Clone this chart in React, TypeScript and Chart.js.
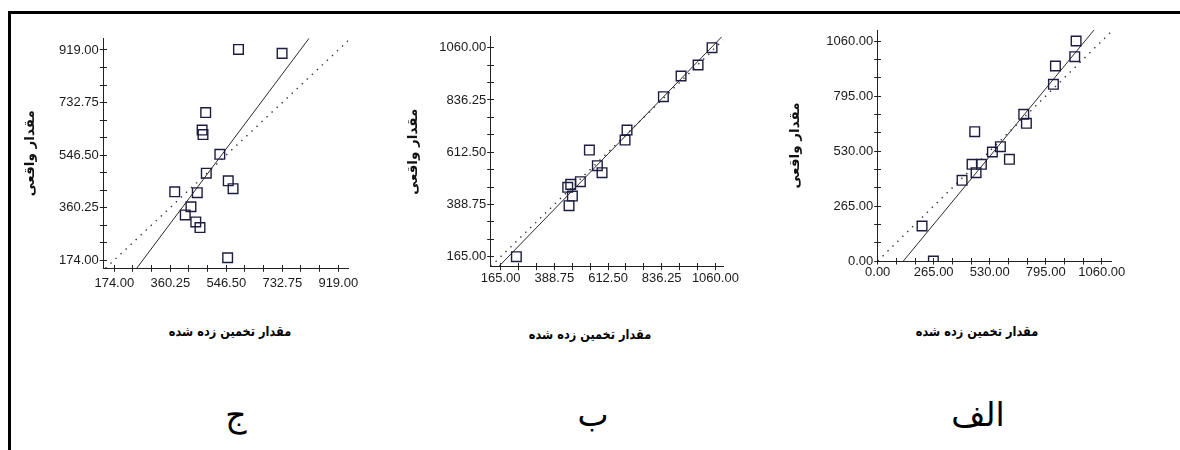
import React, { useEffect, useRef } from "react";
import { Chart, registerables } from "chart.js";

Chart.register(...registerables);

// ---------- Data ----------
// Panel الف (right)
const estimatedAlef = [938.6, 932.2, 840.8, 831.3, 690.9, 703.5, 459.0, 580.5, 542.6, 623.1, 490.6, 446.4, 465.3, 399.1, 209.8, 263.4];
const actualAlef = [1060, 984.5, 939.5, 851.2, 706.6, 663.3, 623.1, 550.9, 525.2, 489.8, 465.7, 465.7, 425.6, 388.7, 168.6, 0];
const tickLabelsAlef = [0, 265, 530, 795, 1060];
const rangeAlef = [0, 1107, 0, 1113]; // xMin, xMax, yMin, yMax
const fitAlef = [1.234, -150]; // slope, intercept

// Panel ب (middle)
const estimatedBe = [1046.1, 987.8, 916.9, 843.2, 691.7, 683.4, 534.7, 568.0, 587.5, 497.2, 444.4, 456.9, 463.8, 449.9, 230.3];
const actualBe = [1060, 985.8, 938.7, 850.1, 707.4, 664.6, 621.8, 554.7, 524.7, 486.2, 461.9, 474.7, 424.8, 383.4, 165];
const tickLabelsBe = [165, 388.75, 612.5, 836.25, 1060];
const rangeBe = [123.3, 1093, 122.2, 1107];
const fitBe = [1.058, -43];

// Panel ج (left)
const estimatedJim = [587, 732, 478, 466, 469, 525, 480, 553, 569, 375, 450, 429, 410, 445, 459, 551];
const actualJim = [921, 907, 697, 635, 619, 549, 482, 455, 427, 416, 413, 363, 334, 309, 289, 182];
const tickLabelsJim = [174, 360.25, 546.5, 732.75, 919];
const rangeJim = [137.4, 952.3, 144.6, 960.5];
const fitJim = [1.423, -208.9];

const yTitle = "مقدار واقعی";
const xTitle = "مقدار تخمین زده شده";
const panelLetters = ["ج", "ب", "الف"];

// ---------- Styles ----------
const AXIS = "#222222";
const POINT = "#1c1c40";
const TICK_FONT = "'Liberation Sans', Arial, sans-serif";
const AR_FONT = "'DejaVu Sans', sans-serif";
const TICK_LEN = 3.5;

type Layout = {
  left: number; width: number; height: number;
  pad: { left: number; top: number; right: number; bottom: number };
  yW: number; xH: number; xPad: number;
};

const layoutJim: Layout = { left: 12, width: 363, height: 320, pad: { left: 10.5, top: 38.3, right: 26.7, bottom: 21.7 }, yW: 80.8, xH: 30, xPad: 3.7 };
const layoutBe: Layout = { left: 380, width: 380, height: 320, pad: { left: 25.5, top: 36.7, right: 36.7, bottom: 23.3 }, yW: 85.2, xH: 30, xPad: 0.2 };
const layoutAlef: Layout = { left: 770, width: 405, height: 320, pad: { left: 17.5, top: 30, right: 63.3, bottom: 29 }, yW: 90.2, xH: 30, xPad: 0.2 };

function allTicks(labels: number[]): number[] {
  const out: number[] = [];
  labels.forEach((v, i) => {
    out.push(v);
    if (i < labels.length - 1) {
      const step = (labels[i + 1] - v) / 3;
      out.push(v + step, v + 2 * step);
    }
  });
  return out;
}

function alignPx(p: number) {
  return Math.round(p - 0.5) + 0.5;
}

const innerTicks = {
  id: "innerTicks",
  afterDraw(chart: any) {
    const { ctx, chartArea, scales } = chart;
    ctx.save();
    ctx.strokeStyle = AXIS;
    ctx.lineWidth = 1;
    ctx.beginPath();
    scales.x.ticks.forEach((t: any) => {
      const px = alignPx(scales.x.getPixelForValue(t.value));
      ctx.moveTo(px, alignPx(chartArea.bottom));
      ctx.lineTo(px, alignPx(chartArea.bottom) - TICK_LEN);
    });
    scales.y.ticks.forEach((t: any) => {
      const py = alignPx(scales.y.getPixelForValue(t.value));
      ctx.moveTo(alignPx(chartArea.left), py);
      ctx.lineTo(alignPx(chartArea.left) + TICK_LEN, py);
    });
    ctx.stroke();
    ctx.restore();
  },
};

type PanelProps = {
  est: number[]; act: number[]; tickLabels: number[]; range: number[]; fit: number[]; layout: Layout;
};

function Panel({ est, act, tickLabels, range, fit, layout }: PanelProps) {
  const ref = useRef<HTMLCanvasElement>(null);
  useEffect(() => {
    if (!ref.current) return;
    const [xMin, xMax, yMin, yMax] = range;
    const [m, b] = fit;
    const points = est.map((x, i) => ({ x, y: act[i] }));
    const fx0 = Math.max(xMin, (yMin - b) / m);
    const fx1 = Math.min(xMax, (yMax - b) / m);
    const fitPts = [{ x: fx0, y: m * fx0 + b }, { x: fx1, y: m * fx1 + b }];
    const i0 = Math.max(xMin, yMin);
    const i1 = Math.min(xMax, yMax);
    const idPts = [{ x: i0, y: i0 }, { x: i1, y: i1 }];
    const ticks = allTicks(tickLabels);
    const label = (v: any, i: number) => (i % 3 === 0 ? Number(v).toFixed(2) : "");

    const chart = new Chart(ref.current, {
      type: "scatter",
      data: {
        datasets: [
          {
            data: points,
            pointStyle: "rect",
            pointRadius: 6.8,
            pointHoverRadius: 6.8,
            pointBorderColor: POINT,
            pointBackgroundColor: "rgba(0,0,0,0)",
            pointBorderWidth: 1.4,
            showLine: false,
          } as any,
          {
            data: fitPts,
            showLine: true,
            pointRadius: 0,
            borderColor: "#2a2a2a",
            borderWidth: 1,
          } as any,
          {
            data: idPts,
            showLine: true,
            pointRadius: 0,
            borderColor: "#333333",
            borderWidth: 1.4,
            borderDash: [1.4, 5.5],
          } as any,
        ],
      },
      options: {
        responsive: false,
        animation: false,
        events: [],
        layout: { padding: layout.pad },
        plugins: { legend: { display: false }, tooltip: { enabled: false }, title: { display: false } },
        scales: {
          x: {
            type: "linear",
            min: xMin,
            max: xMax,
            afterBuildTicks: (s: any) => { s.ticks = ticks.map((v) => ({ value: v })); },
            afterFit: (s: any) => { s.height = layout.xH; },
            ticks: {
              autoSkip: false, maxRotation: 0, minRotation: 0, padding: layout.xPad,
              color: "#1a1a1a", font: { family: TICK_FONT, size: 13 }, callback: label,
            },
            grid: { drawOnChartArea: false, drawTicks: true, tickLength: TICK_LEN, color: AXIS, lineWidth: 1 },
            border: { display: true, color: AXIS, width: 1 },
          },
          y: {
            type: "linear",
            min: yMin,
            max: yMax,
            afterBuildTicks: (s: any) => { s.ticks = ticks.map((v) => ({ value: v })); },
            afterFit: (s: any) => { s.width = layout.yW; },
            ticks: {
              autoSkip: false, padding: 1,
              color: "#1a1a1a", font: { family: TICK_FONT, size: 13 }, callback: label,
            },
            grid: { drawOnChartArea: false, drawTicks: true, tickLength: TICK_LEN, color: AXIS, lineWidth: 1 },
            border: { display: true, color: AXIS, width: 1 },
            title: {
              display: true, text: yTitle, color: "#111111",
              font: { family: AR_FONT, size: 13.5, weight: "bold", lineHeight: 1.2 },
              padding: { top: 0, bottom: 0 },
            },
          },
        },
      } as any,
      plugins: [innerTicks],
    });
    return () => chart.destroy();
  }, []);
  return (
    <canvas
      ref={ref}
      width={layout.width}
      height={layout.height}
      style={{ position: "absolute", left: layout.left, top: 0, width: layout.width, height: layout.height }}
    />
  );
}

function ArText({ text, cx, baseline, size, bold, sx }: { text: string; cx: number; baseline: number; size: number; bold?: boolean; sx?: number }) {
  const top = baseline - 0.846 * size;
  return (
    <div
      dir="rtl"
      style={{
        position: "absolute", left: cx - 150, width: 300, top, textAlign: "center",
        fontFamily: AR_FONT, fontSize: size, lineHeight: `${size}px`, fontWeight: bold ? 700 : 400,
        color: "#000", whiteSpace: "nowrap", transform: `scaleX(${sx ?? 1})`, transformOrigin: "50% 50%",
      }}
    >
      {text}
    </div>
  );
}

export default function App() {
  return (
    <div style={{ position: "absolute", left: 0, top: 0, width: 1180, height: 450, background: "#fff", overflow: "hidden" }}>
      <div style={{ position: "absolute", left: 8, top: 11, width: 1180, height: 450, borderTop: "3px solid #000", borderLeft: "3px solid #000" }} />
      <Panel est={estimatedJim} act={actualJim} tickLabels={tickLabelsJim} range={rangeJim} fit={fitJim} layout={layoutJim} />
      <Panel est={estimatedBe} act={actualBe} tickLabels={tickLabelsBe} range={rangeBe} fit={fitBe} layout={layoutBe} />
      <Panel est={estimatedAlef} act={actualAlef} tickLabels={tickLabelsAlef} range={rangeAlef} fit={fitAlef} layout={layoutAlef} />
      <ArText text={xTitle} cx={230} baseline={336} size={13.5} bold sx={0.84} />
      <ArText text={xTitle} cx={590} baseline={339} size={13.5} bold sx={0.84} />
      <ArText text={xTitle} cx={977} baseline={336} size={13.5} bold sx={0.84} />
      <ArText text={panelLetters[0]} cx={236} baseline={426} size={33} />
      <ArText text={panelLetters[1]} cx={593} baseline={426} size={33} />
      <ArText text={panelLetters[2]} cx={978} baseline={426} size={33} />
    </div>
  );
}
